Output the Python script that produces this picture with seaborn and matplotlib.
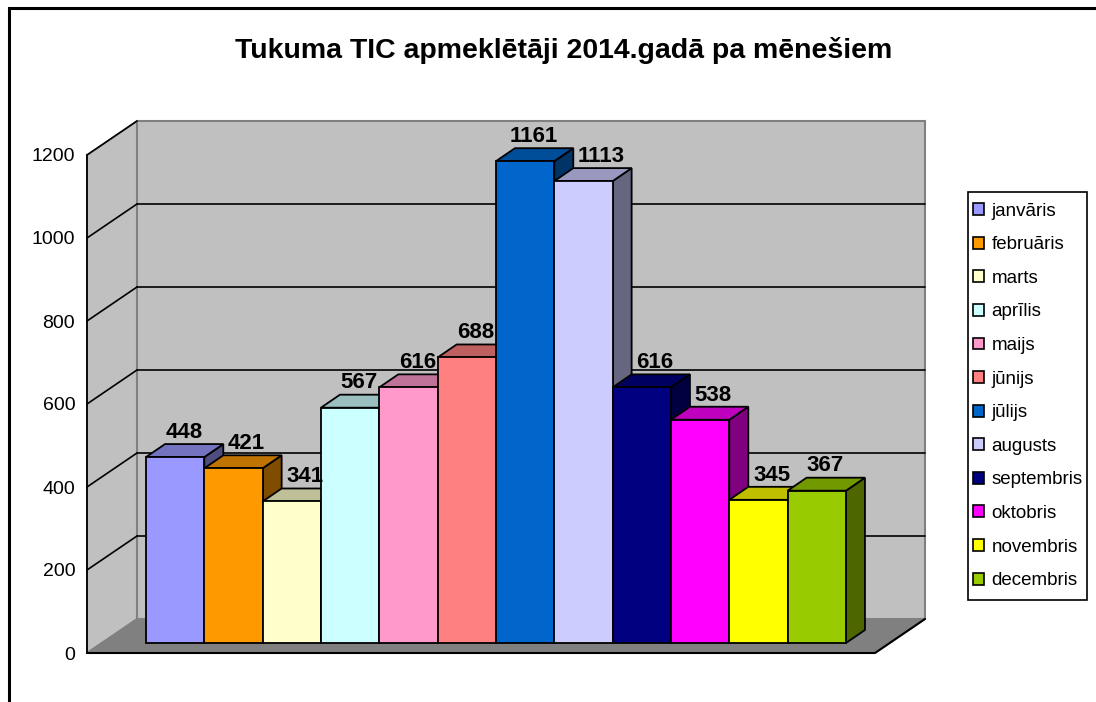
import matplotlib
matplotlib.use('Agg')
import matplotlib.pyplot as plt
import seaborn as sns
import pandas as pd
from matplotlib.patches import Polygon, Patch, Rectangle
from matplotlib.colors import to_rgb

months = ['janvāris', 'februāris', 'marts', 'aprīlis', 'maijs', 'jūnijs',
          'jūlijs', 'augusts', 'septembris', 'oktobris', 'novembris', 'decembris']
visitors = [448, 421, 341, 567, 616, 688, 1161, 1113, 616, 538, 345, 367]
colors = ['#9999FF', '#FF9900', '#FFFFCC', '#CCFFFF', '#FF99CC', '#FF8080',
          '#0066CC', '#CCCCFF', '#000080', '#FF00FF', '#FFFF00', '#99CC00']
y_ticks = [0, 200, 400, 600, 800, 1000, 1200]
title = 'Tukuma TIC apmeklētāji 2014.gadā pa mēnešiem'

sns.set_style('white')
plt.rcParams['font.family'] = ['Liberation Sans', 'DejaVu Sans']
plt.rcParams['text.color'] = 'black'
plt.rcParams['ytick.color'] = 'black'
plt.rcParams['ytick.labelcolor'] = 'black'

W, H = 1096, 702
fig = plt.figure(figsize=(W / 100, H / 100), dpi=100)

# front plane of the 3d box (pixels)
left_px, right_px, bottom_px, top_px = 87, 875, 653, 155
ax = fig.add_axes([left_px / W, 1 - bottom_px / H,
                   (right_px - left_px) / W, (bottom_px - top_px) / H])

df = pd.DataFrame({'month': months, 'visitors': visitors})
sns.barplot(data=df, x='month', y='visitors', hue='month', palette=colors,
            width=1, saturation=1, edgecolor='black', linewidth=1.3,
            legend=False, ax=ax)
bars = sorted(ax.patches, key=lambda p: p.get_x())

x_lo, x_hi = -1.511, 11.998
y_max = y_ticks[-1]
ax.set_xlim(x_lo, x_hi)
ax.set_ylim(0, y_max)

# depth offsets, data units
px_x = (right_px - left_px) / (x_hi - x_lo)
px_y = (bottom_px - top_px) / y_max
wall_dx, wall_dy = 50 / px_x, 34 / px_y
bar_lift = 10 / px_y
bar_dx, bar_dy = 19 / px_x, 13 / px_y

wall_c, floor_c, edge_c = '#C0C0C0', '#808080', '#808080'
xb_lo, xb_hi = x_lo + wall_dx, x_hi + wall_dx

ax.add_patch(Polygon([(x_lo, 0), (xb_lo, wall_dy), (xb_lo, y_max + wall_dy), (x_lo, y_max)],
                     facecolor=wall_c, edgecolor=edge_c, lw=1.2, zorder=0, clip_on=False))
ax.add_patch(Polygon([(xb_lo, wall_dy), (xb_hi, wall_dy), (xb_hi, y_max + wall_dy), (xb_lo, y_max + wall_dy)],
                     facecolor=wall_c, edgecolor=edge_c, lw=1.5, zorder=0, clip_on=False))
ax.add_patch(Polygon([(x_lo, 0), (x_hi, 0), (xb_hi, wall_dy), (xb_lo, wall_dy)],
                     facecolor=floor_c, edgecolor=edge_c, lw=1.2, zorder=0.5, clip_on=False))
ax.plot([x_lo, x_hi, xb_hi], [0, 0, wall_dy], color='black', lw=1.5, zorder=0.6, clip_on=False)

# gridlines on side wall and back wall
for v in y_ticks[1:]:
    ax.plot([x_lo, xb_lo], [v, v + wall_dy], color='black', lw=1.2, zorder=1, clip_on=False)
    if v < y_max:
        ax.plot([xb_lo, xb_hi], [v + wall_dy] * 2, color='black', lw=1.2, zorder=1, clip_on=False)


def shade(c, f):
    r, g, b = to_rgb(c)[:3]
    return (r * f, g * f, b * f)


labels = []
for i, (bar, val) in enumerate(zip(bars, visitors)):
    x0, w, h = bar.get_x(), bar.get_width(), bar.get_height()
    fc = bar.get_facecolor()
    bar.set_y(bar_lift)
    bar.set_zorder(10 + 3 * i + 2)
    bar.set_clip_on(False)
    top = bar_lift + h
    ax.add_patch(Polygon([(x0, top), (x0 + w, top), (x0 + w + bar_dx, top + bar_dy),
                          (x0 + bar_dx, top + bar_dy)],
                         facecolor=shade(fc, 0.75), edgecolor='black', lw=1.3,
                         zorder=10 + 3 * i + 1, clip_on=False))
    ax.add_patch(Polygon([(x0 + w, bar_lift), (x0 + w + bar_dx, bar_lift + bar_dy),
                          (x0 + w + bar_dx, top + bar_dy), (x0 + w, top)],
                         facecolor=shade(fc, 0.5), edgecolor='black', lw=1.3,
                         zorder=10 + 3 * i, clip_on=False))
    t = ax.text(x0 + w / 2 + 0.15, top + bar_dy + 15, f"{val}",
                ha='center', va='baseline', fontsize=16, fontweight='bold',
                zorder=100, clip_on=False)
    labels.append(t)

# push a label right when the taller bar on its left would cover it
fig.canvas.draw()
renderer = fig.canvas.get_renderer()
for i in range(1, len(bars)):
    prev = bars[i - 1]
    prev_top = prev.get_y() + prev.get_height() + bar_dy
    lx, ly = labels[i].get_position()
    if prev_top > ly:
        half_w = labels[i].get_window_extent(renderer).width / 2 / px_x
        clear_x = prev.get_x() + prev.get_width() + bar_dx + 0.08
        if lx - half_w < clear_x:
            labels[i].set_x(clear_x + half_w)

ax.patch.set_visible(False)
for s in ['top', 'right', 'bottom']:
    ax.spines[s].set_visible(False)
ax.spines['left'].set_color('black')
ax.spines['left'].set_linewidth(1.3)
ax.set_xticks([])
ax.set_yticks(y_ticks)
ax.tick_params(axis='y', direction='out', length=4.5, width=1.2, pad=4,
               labelsize=14, color='black', labelcolor='black')
ax.set_xlabel('')
ax.set_ylabel('')

handles = [Patch(facecolor=c, edgecolor='black', linewidth=1.2, label=m)
           for m, c in zip(months, colors)]
leg = fig.legend(handles=handles, loc='upper left',
                 bbox_to_anchor=(968 / W, 1 - 198 / H), frameon=False,
                 fontsize=13.5, handlelength=0.6, handleheight=0.6,
                 handletextpad=0.4, labelspacing=0.885, borderpad=0.25,
                 borderaxespad=0)

# legend box with a bit more room above and below
fig.canvas.draw()
bb = leg.get_window_extent(fig.canvas.get_renderer())
fig.add_artist(Rectangle((bb.x0 / W, (bb.y0 - 6) / H), bb.width / W, (bb.height + 12) / H,
                         transform=fig.transFigure, facecolor='white',
                         edgecolor='black', lw=1.2, zorder=-1))

fig.text(564 / W, 1 - 50 / H, title, ha='center', va='center',
         fontsize=20.5, fontweight='bold')

# outer chart frame
fig.add_artist(Rectangle((9 / W, -0.1), 1.2, (H - 8) / H + 0.1,
                         transform=fig.transFigure, fill=False,
                         lw=2.2, edgecolor='black'))

fig.savefig('out.png', dpi=100)
